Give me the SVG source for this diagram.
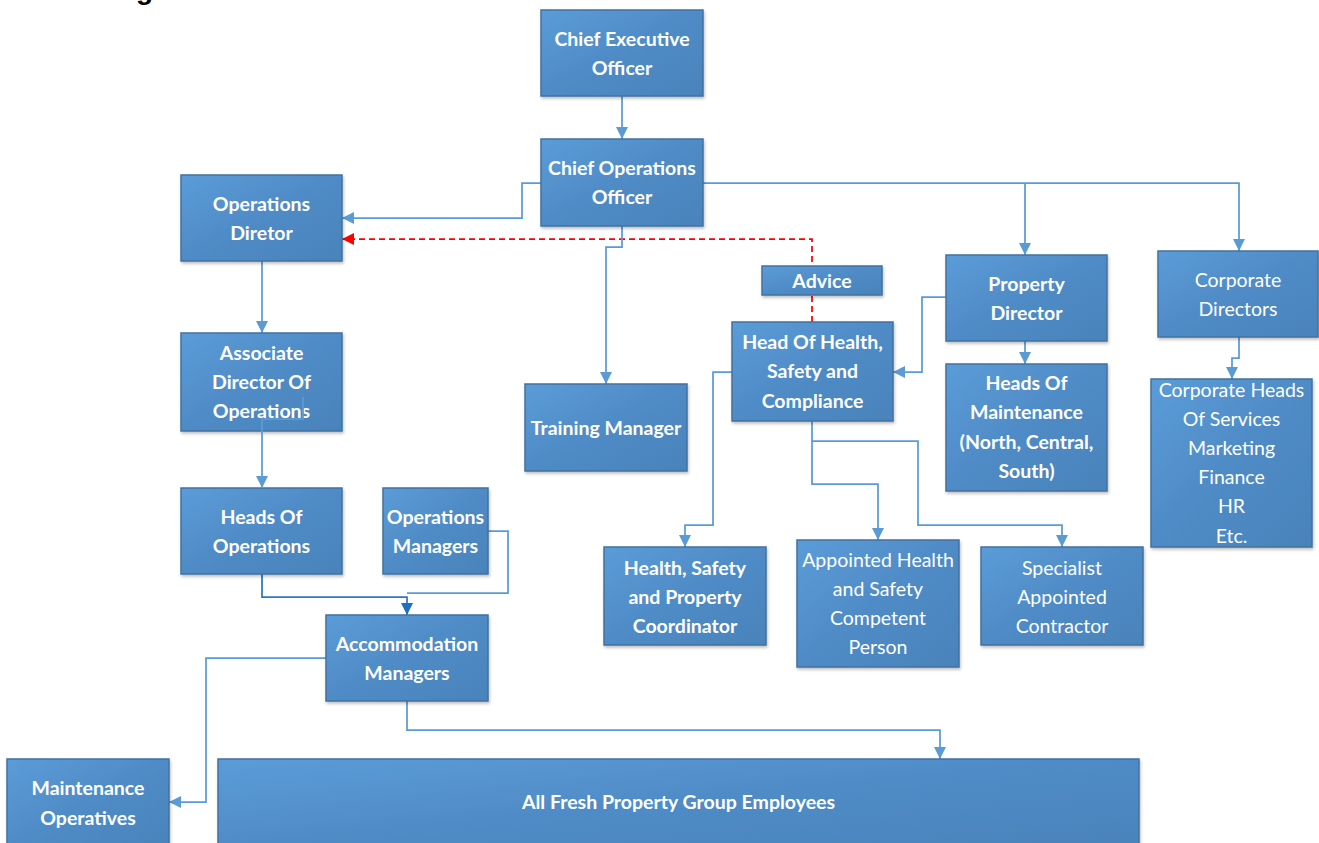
<svg xmlns="http://www.w3.org/2000/svg" width="1319" height="843" viewBox="0 0 1319 843">
<defs>
<linearGradient id="g" x1="0" y1="0" x2="1" y2="1">
<stop offset="0" stop-color="#5b9cd8"/>
<stop offset="0.5" stop-color="#4f8bc6"/>
<stop offset="1" stop-color="#4a83bb"/>
</linearGradient>
<filter id="sh" x="-10%" y="-10%" width="130%" height="130%">
<feDropShadow dx="1" dy="2" stdDeviation="1.5" flood-color="#000" flood-opacity="0.25"/>
</filter>
<marker id="a" viewBox="0 0 12 12" markerWidth="12" markerHeight="12" refX="12" refY="6" orient="auto" markerUnits="userSpaceOnUse">
<path d="M0,0 L12,6 L0,12 z" fill="#5b9bd5"/>
</marker>
<marker id="ad" viewBox="0 0 12 12" markerWidth="12" markerHeight="12" refX="12" refY="6" orient="auto" markerUnits="userSpaceOnUse">
<path d="M0,0 L12,6 L0,12 z" fill="#1f6fbf"/>
</marker>
<marker id="ar" viewBox="0 0 12 12" markerWidth="12" markerHeight="12" refX="12" refY="6" orient="auto" markerUnits="userSpaceOnUse">
<path d="M0,0 L12,6 L0,12 z" fill="#ff0000"/>
</marker>
</defs>
<style>
.box{fill:url(#g);stroke:#41729f;stroke-width:1.5;filter:url(#sh)}
.t{font-family:Lato,"Liberation Sans",sans-serif;font-size:19.5px;fill:#fff;text-anchor:middle;font-weight:bold}
.n{font-weight:normal}
.c{fill:none;stroke:#5b9bd5;stroke-width:1.75;marker-end:url(#a)}
.cn{fill:none;stroke:#5b9bd5;stroke-width:1.75}
.cd{fill:none;stroke:#2a78c4;stroke-width:1.75;marker-end:url(#ad)}
.r{fill:none;stroke:#ff0000;stroke-width:1.75;stroke-dasharray:6,4;marker-end:url(#ar)}
.h{font-family:"Liberation Sans",Arial,sans-serif;font-weight:bold;font-size:28px;fill:#000}
</style>
<rect width="1319" height="843" fill="#fff"/>
<text class="h" x="136" y="-1">g</text>

<g id="connectors">
<path class="r" d="M812,322 V239 H342"/>
<path class="c" d="M622,96 V139"/>
<path class="c" d="M541,183 H522 V218 H342"/>
<path class="c" d="M622,226 V247 H606 V384"/>
<path class="c" d="M703,183 H1239 V251"/>
<path class="c" d="M1025,183 V255"/>
<path class="c" d="M1025,341 V364"/>
<path class="c" d="M946,297 H922 V372 H893"/>
<path class="c" d="M1239,337 V358 H1232 V379"/>
<path class="c" d="M732,372 H713 V525 H685 V547"/>
<path class="c" d="M812,421 V484 H878 V540"/>
<path class="c" d="M812,441 H918 V525 H1062 V547"/>
<path class="c" d="M262,261 V333"/>
<path class="cn" d="M488,531 H508 V593 H407"/>
<path class="cd" d="M262,574 V597 H407 V615"/>
<path class="c" d="M326,658 H206 V802 H169"/>
<path class="c" d="M407,701 V730 H940 V759"/>
</g>

<g id="ceo"><rect class="box" x="541" y="10" width="162" height="86"/>
<text class="t" x="622" y="46">Chief Executive</text><text class="t" x="622" y="75">Officer</text></g>

<g id="coo"><rect class="box" x="541" y="139" width="162" height="87"/>
<text class="t" x="622" y="175">Chief Operations</text><text class="t" x="622" y="204">Officer</text></g>

<g id="opdir"><rect class="box" x="181" y="175" width="161" height="86"/>
<text class="t" x="261.5" y="211">Operations</text><text class="t" x="261.5" y="240">Diretor</text></g>

<g id="assoc"><rect class="box" x="181" y="333" width="161" height="98"/>
<text class="t" x="261.5" y="360">Associate</text><text class="t" x="261.5" y="389">Director Of</text><text class="t" x="261.5" y="418">Operations</text></g>

<g id="headsops"><rect class="box" x="181" y="488" width="161" height="86"/>
<text class="t" x="261.5" y="524">Heads Of</text><text class="t" x="261.5" y="553">Operations</text></g>

<g id="opsmgr"><rect class="box" x="383" y="488" width="105" height="86"/>
<text class="t" x="435.5" y="524">Operations</text><text class="t" x="435.5" y="553">Managers</text></g>

<g id="accom"><rect class="box" x="326" y="615" width="162" height="86"/>
<text class="t" x="407" y="651">Accommodation</text><text class="t" x="407" y="680">Managers</text></g>

<g id="maintops"><rect class="box" x="7" y="759" width="162" height="92"/>
<text class="t" x="88" y="795">Maintenance</text><text class="t" x="88" y="825">Operatives</text></g>

<g id="allemp"><rect class="box" x="218" y="759" width="921" height="92"/>
<text class="t" x="678.5" y="809">All Fresh Property Group Employees</text></g>

<g id="training"><rect class="box" x="525" y="384" width="162" height="87"/>
<text class="t" x="606" y="435">Training Manager</text></g>

<g id="advice"><rect class="box" x="762" y="266" width="120" height="29"/>
<text class="t" x="822" y="288">Advice</text></g>

<g id="hhsc"><rect class="box" x="732" y="322" width="161" height="99"/>
<text class="t" x="812.5" y="349">Head Of Health,</text><text class="t" x="812.5" y="378">Safety and</text><text class="t" x="812.5" y="408">Compliance</text></g>

<g id="propdir"><rect class="box" x="946" y="255" width="161" height="86"/>
<text class="t" x="1026.5" y="291">Property</text><text class="t" x="1026.5" y="320">Director</text></g>

<g id="headsmaint"><rect class="box" x="946" y="364" width="161" height="127"/>
<text class="t" x="1026.5" y="390">Heads Of</text><text class="t" x="1026.5" y="419">Maintenance</text><text class="t" x="1026.5" y="449">(North, Central,</text><text class="t" x="1026.5" y="478">South)</text></g>

<g id="corpdir"><rect class="box" x="1158" y="251" width="160" height="86"/>
<text class="t n" x="1238" y="287">Corporate</text><text class="t n" x="1238" y="316">Directors</text></g>

<g id="corpheads"><rect class="box" x="1151" y="379" width="161" height="168"/>
<text class="t n" x="1231.5" y="397">Corporate Heads</text><text class="t n" x="1231.5" y="426">Of Services</text><text class="t n" x="1231.5" y="455">Marketing</text><text class="t n" x="1231.5" y="484">Finance</text><text class="t n" x="1231.5" y="513">HR</text><text class="t n" x="1231.5" y="543">Etc.</text></g>

<g id="hsprop"><rect class="box" x="604" y="547" width="162" height="98"/>
<text class="t" x="685" y="575">Health, Safety</text><text class="t" x="685" y="604">and Property</text><text class="t" x="685" y="633">Coordinator</text></g>

<g id="appointed"><rect class="box" x="797" y="540" width="162" height="127"/>
<text class="t n" x="878" y="567">Appointed Health</text><text class="t n" x="878" y="596">and Safety</text><text class="t n" x="878" y="625">Competent</text><text class="t n" x="878" y="654">Person</text></g>

<g id="specialist"><rect class="box" x="981" y="547" width="162" height="98"/>
<text class="t n" x="1062" y="575">Specialist</text><text class="t n" x="1062" y="604">Appointed</text><text class="t n" x="1062" y="633">Contractor</text></g>

<g id="connectors-over">
<path class="c" d="M303,397 V419 H262 V488"/>
</g>
</svg>
